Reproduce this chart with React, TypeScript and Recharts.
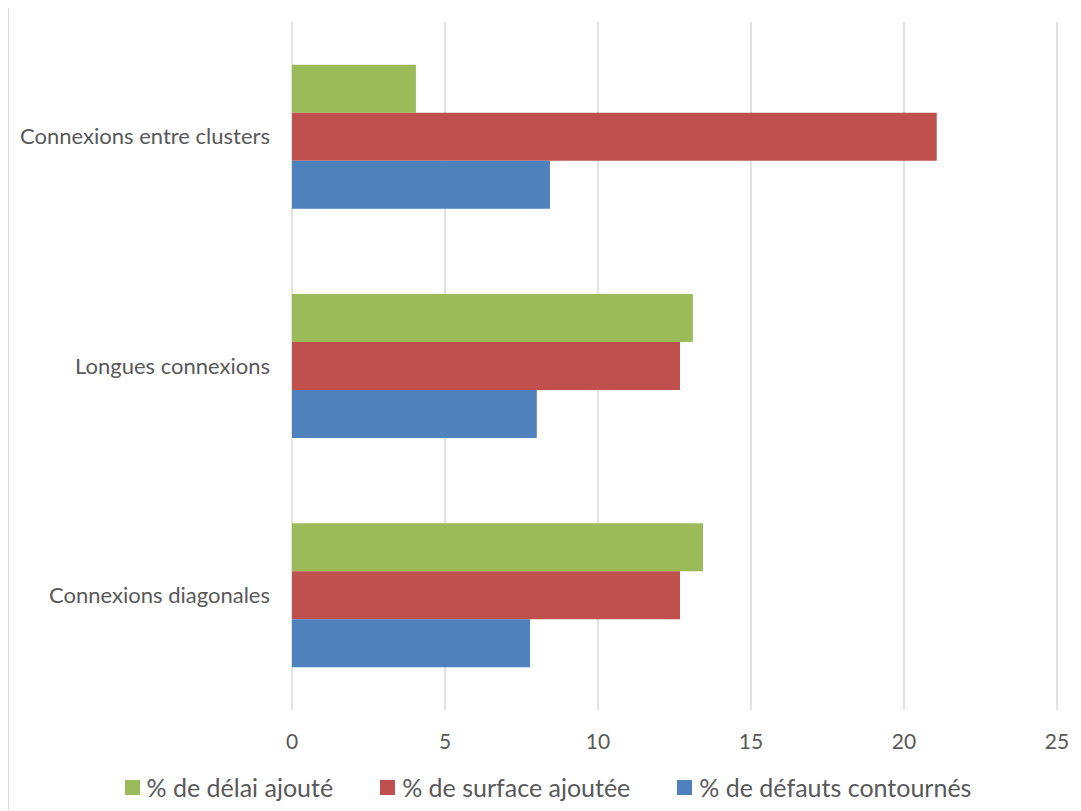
import { BarChart, Bar, XAxis, YAxis, CartesianGrid, Legend } from "recharts";

const categories = [
  "Connexions entre clusters",
  "Longues connexions",
  "Connexions diagonales",
];
const delaiAjoute = [4.05, 13.1, 13.43];
const surfaceAjoutee = [21.07, 12.68, 12.68];
const defautsContournes = [8.43, 8.0, 7.78];
const xTicks = [0, 5, 10, 15, 20, 25];
const seriesOrder = ["delai", "surface", "defauts"];

const FONT = "Lato, 'Open Sans', sans-serif";
const TEXT = "#595959";

const data = categories.map((name, i) => ({
  name,
  delai: delaiAjoute[i],
  surface: surfaceAjoutee[i],
  defauts: defautsContournes[i],
}));

function LegendContent({ payload }: any) {
  const items = [...(payload || [])].sort(
    (a: any, b: any) => seriesOrder.indexOf(a.dataKey) - seriesOrder.indexOf(b.dataKey)
  );
  return (
    <div
      style={{
        display: "flex",
        justifyContent: "center",
        alignItems: "center",
        gap: 47,
        paddingLeft: 30,
        paddingTop: 12,
        fontFamily: FONT,
        fontSize: 25,
        color: TEXT,
      }}
    >
      {items.map((entry: any) => (
        <div key={entry.value} style={{ display: "flex", alignItems: "center" }}>
          <span
            style={{
              width: 15,
              height: 15,
              background: entry.color,
              marginRight: 7,
              display: "inline-block",
            }}
          />
          <span>{entry.value}</span>
        </div>
      ))}
    </div>
  );
}

export default function App() {
  return (
    <div
      style={{
        width: 1073,
        height: 803,
        borderTop: "1px solid #d9d9d9",
        borderLeft: "1px solid #d9d9d9",
        boxSizing: "border-box",
        marginTop: -1,
        background: "#fff",
      }}
    >
      <BarChart
        width={1072}
        height={802}
        data={data}
        layout="vertical"
        margin={{ top: 14, right: 24, bottom: 0, left: 0 }}
        barCategoryGap="18.6%"
        barGap={0}
      >
        <CartesianGrid horizontal={false} stroke="#d9d9d9" strokeWidth={1.5} />
        <XAxis
          type="number"
          domain={[0, 25]}
          ticks={xTicks}
          axisLine={false}
          tickLine={false}
          height={50}
          tickMargin={18}
          tick={{ fill: TEXT, fontSize: 21, fontFamily: FONT }}
        />
        <YAxis
          type="category"
          dataKey="name"
          width={283}
          axisLine={false}
          tickLine={false}
          tickMargin={16}
          tick={{ fill: TEXT, fontSize: 22, fontFamily: FONT }}
        />
        <Legend
          verticalAlign="bottom"
          height={50}
          content={<LegendContent />}
        />
        <Bar dataKey="delai" name="% de délai ajouté" fill="#9BBB59" isAnimationActive={false} />
        <Bar dataKey="surface" name="% de surface ajoutée" fill="#C0504D" isAnimationActive={false} />
        <Bar dataKey="defauts" name="% de défauts contournés" fill="#4F81BD" isAnimationActive={false} />
      </BarChart>
    </div>
  );
}
